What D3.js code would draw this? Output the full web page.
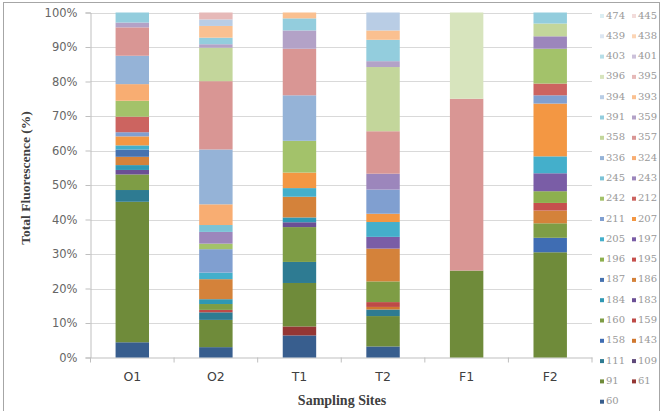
<!DOCTYPE html>
<html>
<head>
<meta charset="utf-8">
<script src="https://cdn.jsdelivr.net/npm/d3@7"></script>
<style>
  body { margin: 0; background: #fff; }
  svg { display: block; }
</style>
</head>
<body>
<svg id="chart" width="665" height="411"></svg>
<script>
// sampling sites along the x axis
const sites = ['O1', 'O2', 'T1', 'T2', 'F1', 'F2']

// fluorescence components, bottom of the stack first
const components = ['60', '61', '91', '109', '111', '143', '158', '159', '160', '183', '184', '186',
    '187', '195', '196', '197', '205', '207', '211', '212', '242', '243', '245', '324',
    '336', '357', '358', '359', '391', '393', '394', '395', '396', '401', '403', '438',
    '439', '445', '474']

// share of total fluorescence (%) per site; missing = 0
const O1 = { 60: 4.4, 91: 40.6, 111: 3.4, 160: 4.5, 183: 1.3, 184: 1.4, 186: 2.4, 187: 2.1,
    205: 1.2, 207: 2.6, 211: 1.2, 212: 4.5, 242: 4.6, 324: 4.8, 336: 8.2, 357: 8.2, 359: 1.4, 391: 2.9 }
const O2 = { 60: 3.0, 91: 7.9, 111: 2.2, 159: 0.7, 160: 1.7, 184: 1.4, 186: 5.8, 205: 1.9,
    211: 6.8, 242: 1.6, 243: 3.4, 245: 2.0, 324: 6.0, 336: 15.9, 357: 19.8, 358: 9.7,
    359: 1.0, 391: 1.9, 393: 3.4, 394: 1.9, 395: 2.0 }
const T1 = { 60: 6.4, 61: 2.6, 91: 12.6, 111: 6.1, 160: 10.1, 183: 1.4, 184: 1.4, 186: 6.0,
    205: 2.5, 207: 4.5, 242: 9.2, 336: 13.2, 357: 13.5, 359: 5.3, 391: 3.5, 393: 1.7 }
const T2 = { 60: 3.2, 91: 8.8, 111: 1.9, 143: 0.75, 159: 1.4, 160: 6.0, 186: 9.5, 197: 3.4,
    205: 4.3, 207: 2.4, 211: 7.0, 243: 4.6, 357: 12.3, 358: 18.6, 359: 1.7, 391: 6.2,
    393: 2.7, 394: 5.2 }
const F1 = { 91: 25.2, 357: 49.8, 396: 25.0 }
const F2 = { 91: 30.5, 158: 4.2, 160: 4.2, 186: 3.7, 195: 2.2, 196: 3.4, 197: 5.2, 205: 4.9,
    207: 15.3, 211: 2.4, 212: 3.4, 242: 10.1, 243: 3.6, 358: 3.7, 391: 3.2 }

const siteValues = [O1, O2, T1, T2, F1, F2]

const yTicks = [0, 0.1, 0.2, 0.3, 0.4, 0.5, 0.6, 0.7, 0.8, 0.9, 1]

// excel-like palette, cycling blue/red/green/purple/aqua/orange, getting lighter
const palette = [
    '#385e8e', '#943634', '#6f8b3a', '#5f497a', '#2e7b92', '#d0782f',
    '#3f6db3', '#be4a47', '#7e9d45', '#6b4f95', '#2f98b4', '#d4823a',
    '#4672b0', '#c6504d', '#8db04e', '#7a5da6', '#44afcb', '#f39743',
    '#809fd0', '#cc6460', '#a3c26a', '#9c86bc', '#7cc3d6', '#f8ad72',
    '#95b3d7', '#d99694', '#c3d69b', '#b3a2c7', '#93cddd', '#fac090',
    '#b9cde5', '#e6b9b8', '#d7e4bd', '#ccc1da', '#b7dee8', '#fcd5b5',
    '#dce6f2', '#f2dcdb', '#dbeef3'
]

const svg = d3.select('#chart')

// chart border
svg.append('rect')
    .attr('x', 3.5).attr('y', 2.5)
    .attr('width', 656).attr('height', 420)
    .attr('fill', 'none')
    .attr('stroke', '#a6a6a6')

const margin = { left: 90.5, right: 592, top: 12.5, bottom: 357.5 }

const x = d3.scaleBand()
    .domain(sites)
    .range([margin.left, margin.right])
    .paddingInner(0.6)
    .paddingOuter(0.3)

const y = d3.scaleLinear()
    .domain([0, 1])
    .range([margin.bottom, margin.top])

const color = d3.scaleOrdinal()
    .domain(components)
    .range(palette)

// rows for the stack
const rows = sites.map((s, i) => {
    const row = { site: s }
    components.forEach(c => { row[c] = siteValues[i][c] || 0 })
    return row
})

const series = d3.stack()
    .keys(components)
    .offset(d3.stackOffsetExpand)(rows)

// gridlines
svg.append('g')
    .selectAll('line')
    .data(yTicks.slice(1))
    .join('line')
    .attr('x1', margin.left)
    .attr('x2', margin.right)
    .attr('y1', d => Math.round(y(d)) + 0.5)
    .attr('y2', d => Math.round(y(d)) + 0.5)
    .attr('stroke', '#d9d9d9')

// y axis
const yAxis = svg.append('g')
    .attr('transform', `translate(${margin.left},0)`)
    .call(d3.axisLeft(y).tickValues(yTicks).tickFormat(d3.format('.0%')).tickSize(5).tickPadding(8))
yAxis.select('.domain').attr('stroke', '#bfbfbf')
yAxis.selectAll('.tick line').attr('stroke', '#bfbfbf')
yAxis.selectAll('.tick text')
    .attr('fill', '#666')
    .style('font-family', 'DejaVu Sans, sans-serif')
    .style('font-size', '11.5px')

// x axis
const xAxis = svg.append('g')
    .attr('transform', `translate(0,${margin.bottom})`)
    .call(d3.axisBottom(x).tickSize(0).tickPadding(15))
xAxis.select('.domain').attr('stroke', '#bfbfbf')
xAxis.selectAll('.tick text')
    .attr('fill', '#404040')
    .style('font-family', 'DejaVu Sans, sans-serif')
    .style('font-size', '12.5px')

// category separators under the axis
const step = x.step()
svg.append('g')
    .selectAll('line')
    .data(d3.range(sites.length + 1))
    .join('line')
    .attr('x1', d => margin.left + d * step)
    .attr('x2', d => margin.left + d * step)
    .attr('y1', margin.bottom)
    .attr('y2', margin.bottom + 5)
    .attr('stroke', '#bfbfbf')

// bars
svg.append('g')
    .selectAll('g')
    .data(series)
    .join('g')
    .attr('fill', d => color(d.key))
    .selectAll('rect')
    .data(d => d)
    .join('rect')
    .attr('x', d => x(d.data.site))
    .attr('width', x.bandwidth())
    .attr('y', d => y(d[1]))
    .attr('height', d => y(d[0]) - y(d[1]))

// axis titles
svg.append('text')
    .attr('transform', 'translate(27,178) rotate(-90)')
    .attr('text-anchor', 'middle')
    .attr('dominant-baseline', 'middle')
    .style('font-family', 'Liberation Serif, Times New Roman, serif')
    .style('font-weight', 'bold')
    .style('font-size', '13.5px')
    .attr('fill', '#404040')
    .text('Total Fluorescence (%)')

svg.append('text')
    .attr('x', 342)
    .attr('y', 405)
    .attr('text-anchor', 'middle')
    .style('font-family', 'Liberation Serif, Times New Roman, serif')
    .style('font-weight', 'bold')
    .style('font-size', '14px')
    .attr('fill', '#404040')
    .text('Sampling Sites')

// legend: two columns, topmost series first
const legendItems = components.slice().reverse()
const legend = svg.append('g')
    .selectAll('g')
    .data(legendItems)
    .join('g')
    .attr('transform', (d, i) => `translate(${600 + (i % 2) * 32},${16 + Math.floor(i / 2) * 20.3})`)

legend.append('rect')
    .attr('x', 0).attr('y', -2)
    .attr('width', 4).attr('height', 4)
    .attr('fill', d => color(d))

legend.append('text')
    .attr('x', 6)
    .attr('dominant-baseline', 'middle')
    .style('font-family', 'DejaVu Serif, serif')
    .style('font-size', '10px')
    .attr('fill', '#999')
    .text(d => d)
</script>
</body>
</html>
